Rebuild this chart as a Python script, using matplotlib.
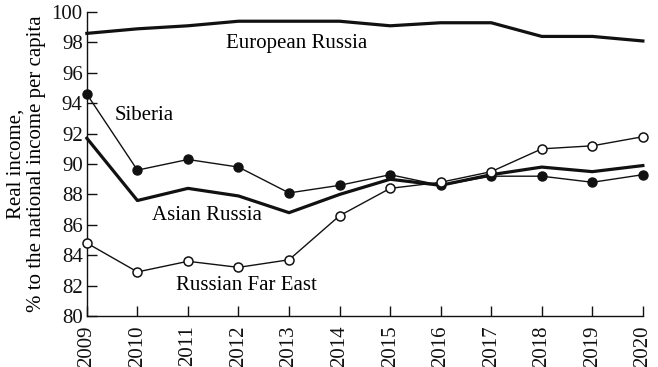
import matplotlib
matplotlib.use("Agg")
import matplotlib.pyplot as plt

years = list(range(2009, 2021))
european_russia = [98.6, 98.9, 99.1, 99.4, 99.4, 99.4, 99.1, 99.3, 99.3, 98.4, 98.4, 98.1]
siberia = [94.6, 89.6, 90.3, 89.8, 88.1, 88.6, 89.3, 88.6, 89.2, 89.2, 88.8, 89.3]
asian_russia = [91.7, 87.6, 88.4, 87.9, 86.8, 88.0, 89.0, 88.6, 89.3, 89.8, 89.5, 89.9]
far_east = [84.8, 82.9, 83.6, 83.2, 83.7, 86.6, 88.4, 88.8, 89.5, 91.0, 91.2, 91.8]

plt.rcParams['font.family'] = ['Liberation Serif', 'DejaVu Serif']

fig = plt.figure(figsize=(6.58, 3.67), dpi=100)
ax = fig.add_axes([0.132, 0.139, 0.845, 0.828])

ax.plot(years, european_russia, color='#111111', lw=2.3, clip_on=False, zorder=3)
ax.plot(years, asian_russia, color='#111111', lw=2.3, clip_on=False, zorder=3)
ax.plot(years, siberia, color='#111111', lw=1.0, marker='o', ms=6.5,
        mfc='#111111', mec='#111111', clip_on=False, zorder=4)
ax.plot(years, far_east, color='#111111', lw=1.0, marker='o', ms=6.5,
        mfc='white', mec='#111111', mew=1.1, clip_on=False, zorder=5)

# series labels placed next to their lines
ax.text(2011.75, 97.95, "European Russia", fontsize=15, va='center', ha='left')
ax.text(2009.55, 93.2, "Siberia", fontsize=15, va='center', ha='left')
ax.text(2010.29, 86.6, "Asian Russia", fontsize=15, va='center', ha='left')
ax.text(2010.76, 82.0, "Russian Far East", fontsize=15, va='center', ha='left')

ax.set_xlim(2009, 2020)
ax.set_ylim(80, 100)
ax.set_xticks(years)
ax.set_xticklabels([str(y) for y in years], rotation=90, fontsize=15)
ax.set_yticks(range(80, 101, 2))
ax.tick_params(axis='y', labelsize=15, pad=3)
ax.tick_params(direction='in', length=7, width=1, colors='#111111')
ax.tick_params(axis='x', pad=7)
ax.set_ylabel("Real income,\n% to the national income per capita", fontsize=15,
              linespacing=1.1, labelpad=4)

for s in ['top', 'right']:
    ax.spines[s].set_visible(False)
for s in ['left', 'bottom']:
    ax.spines[s].set_linewidth(1.0)
    ax.spines[s].set_color('#111111')

fig.savefig("out.png", dpi=100)
